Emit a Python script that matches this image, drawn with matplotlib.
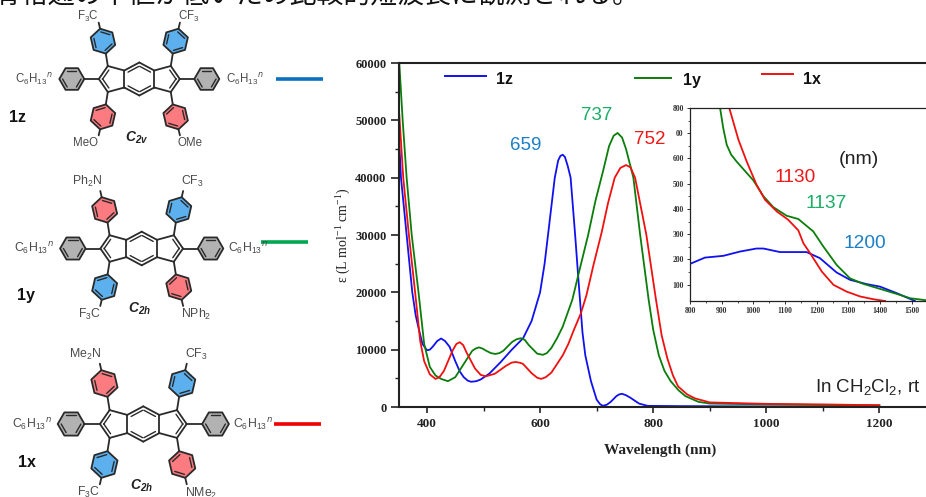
#!/usr/bin/env python3
import numpy as np
import matplotlib
matplotlib.use('Agg')
import matplotlib.pyplot as plt
from matplotlib.patches import Polygon

plt.rcParams['font.family'] = ['Liberation Sans', 'Noto Sans CJK JP', 'DejaVu Sans']
plt.rcParams['mathtext.default'] = 'regular'

W, H = 926, 497

# main spectra
wl_z = [351, 354, 364, 374, 380, 385, 392, 400, 405, 410, 418, 425, 432, 440, 450, 458, 465, 472, 478, 487, 495, 510, 530, 550, 570, 585, 600,
        608, 614, 620, 626, 632, 636, 640, 644, 649, 654, 658, 662, 668, 675, 680, 690, 700, 706, 711, 718, 725, 735, 740, 745, 752, 760, 775, 790, 850, 1000, 1200]
eps_z = [46000, 40000, 30000, 20000, 16000, 13800, 11000, 9900, 10000, 10500, 11500, 11950, 11500, 10500, 8000, 6200, 5200, 4600, 4400, 4500, 4800, 5800, 7800, 10000, 12000, 15000, 20000,
         25000, 30000, 35000, 40000, 43000, 43800, 44000, 43600, 42000, 40000, 35000, 30000, 22000, 13000, 9000, 4500, 1300, 500, 200, 400, 900, 1900, 2200, 2300, 2050, 1600, 600, 200, 150, 100, 50]
wl_y = [351, 357, 364, 373, 385, 395, 405, 415, 425, 437, 450, 465, 480, 486, 492, 498, 505, 513, 521, 528, 535, 550, 558, 566, 573, 580, 595, 605, 612, 620,
        630, 640, 657, 670, 685, 698, 711, 722, 730, 737, 745, 752, 765, 777, 785, 792, 800, 810, 820, 831, 845, 857, 880, 900, 1000, 1100, 1200]
eps_y = [60000, 50000, 40000, 30000, 20000, 11000, 7000, 5500, 4900, 4500, 5200, 7500, 9800, 10200, 10400, 10200, 9800, 9400, 9250, 9400, 9800, 11300, 11800, 12000, 11700, 10800, 9300, 9100, 9400, 10300,
         12000, 14000, 18700, 24000, 30000, 36000, 41000, 45500, 47300, 47800, 47000, 45000, 40000, 30000, 24000, 18700, 13500, 9000, 6300, 4500, 2900, 1900, 900, 600, 450, 350, 300]
wl_x = [351, 358, 368, 379, 388, 395, 405, 415, 422, 430, 445, 452, 458, 464, 470, 485, 495, 504, 520, 540, 550, 557, 565, 570, 585, 595, 602, 610, 620,
        640, 650, 660, 672, 682, 695, 709, 720, 732, 742, 752, 760, 768, 778, 788, 797, 805, 815, 825, 835, 844, 860, 874, 900, 1000, 1100, 1200]
eps_x = [51000, 40000, 30000, 20000, 11500, 8000, 5700, 4900, 5200, 6300, 9800, 11000, 11300, 10800, 9500, 6700, 5600, 5350, 5800, 7200, 7750, 7850, 7700, 7500, 5900, 5100, 4900, 5200, 6000,
         9000, 11000, 13500, 16300, 19500, 25000, 30500, 35500, 40000, 41700, 42200, 41800, 40000, 35000, 30000, 24000, 18700, 12500, 8500, 5500, 3600, 2200, 1500, 800, 550, 450, 300]

# near-IR inset
in_wl_z = [800, 847, 905, 958, 1010, 1032, 1084, 1168, 1210, 1263, 1305, 1358, 1400, 1453, 1510]
in_eps_z = [182, 207, 214, 231, 243, 243, 229, 229, 205, 148, 119, 102, 92, 66, 35]
in_wl_y = [895, 905, 916, 930, 947, 1000, 1032, 1063, 1105, 1142, 1189, 1221, 1263, 1305, 1347, 1400, 1453, 1495, 1545]
in_eps_y = [800, 720, 654, 615, 588, 513, 450, 407, 373, 360, 311, 251, 178, 125, 103, 83, 63, 46, 38]
in_wl_x = [924, 953, 979, 1010, 1037, 1074, 1110, 1142, 1158, 1179, 1216, 1253, 1295, 1337, 1379, 1416]
in_eps_x = [800, 674, 588, 496, 436, 390, 357, 315, 264, 225, 152, 99, 72, 53, 42, 35]

main_xticks = [400, 600, 800, 1000, 1200]
main_yticks = [0, 10000, 20000, 30000, 40000, 50000, 60000]
in_xticks = [800, 900, 1000, 1100, 1200, 1300, 1400, 1500]
in_yticks = [100, 200, 300, 400, 500, 600, 700, 800]
in_ylabels = ['100', '200', '300', '400', '500', '600', '00', '800']

BLUE, GREEN, RED = '#1010f0', '#0b7d0b', '#f01010'
SERIF = 'Liberation Serif'

fig = plt.figure(figsize=(W / 100, H / 100), dpi=100)


def axes_px(x0, y0, x1, y1):
    return fig.add_axes([x0 / W, 1 - y1 / H, (x1 - x0) / W, (y1 - y0) / H])


# overlay in pixel coords for the structures and the free labels
ov = fig.add_axes([0, 0, 1, 1], zorder=5)
ov.set_xlim(0, W)
ov.set_ylim(H, 0)
ov.axis('off')
ov.patch.set_alpha(0)

# main axes
ax = axes_px(399, 63, 926, 407)
ax.plot(wl_z, eps_z, color=BLUE, lw=1.3)
ax.plot(wl_y, eps_y, color=GREEN, lw=1.3)
ax.plot(wl_x, eps_x, color=RED, lw=1.3)
ax.set_xlim(350.5, 1282.5)
ax.set_ylim(0, 60000)
ax.set_xticks(main_xticks)
ax.set_xticks([500, 700, 900, 1100], minor=True)
ax.set_yticks(main_yticks)
ax.set_yticks(np.arange(5000, 60000, 10000), minor=True)
for lab in ax.get_xticklabels() + ax.get_yticklabels():
    lab.set_family(SERIF)
    lab.set_weight('bold')
ax.tick_params(axis='x', which='major', length=4, width=1.2, labelsize=9.5, pad=4, color='#222222', labelcolor='#222222')
ax.tick_params(axis='y', which='major', length=6, width=1.2, labelsize=9, pad=3, color='#222222', labelcolor='#222222')
ax.tick_params(which='minor', length=3, width=1.0, color='#222222')
ax.spines['right'].set_visible(False)
for s in ['left', 'bottom', 'top']:
    ax.spines[s].set_linewidth(1.5)
    ax.spines[s].set_color('#222222')
ov.text(660, 450, 'Wavelength (nm)', family=SERIF, weight='bold', fontsize=11, ha='center', va='center', color='#222222')
ov.text(344, 235, 'ε (L mol$^{-1}$ cm$^{-1}$)', family=SERIF, fontsize=10, rotation=90, ha='center', va='center', color='#222222')

# inset
inset = axes_px(690, 108, 926, 301)
inset.plot(in_wl_z, in_eps_z, color=BLUE, lw=1.3)
inset.plot(in_wl_y, in_eps_y, color=GREEN, lw=1.3)
inset.plot(in_wl_x, in_eps_x, color=RED, lw=1.3)
inset.set_xlim(800, 800 + 236 / 0.3167)
inset.set_ylim(35, 800)
inset.set_xticks(in_xticks)
inset.set_xticks(np.arange(850, 1550, 100), minor=True)
inset.set_yticks(in_yticks)
inset.set_yticklabels(in_ylabels)
inset.set_yticks(np.arange(150, 800, 100), minor=True)
for lab in inset.get_xticklabels() + inset.get_yticklabels():
    lab.set_family(SERIF)
    lab.set_weight('bold')
inset.tick_params(which='major', length=2.5, width=0.7, labelsize=5.5, pad=2, color='#333333', labelcolor='#333333')
inset.tick_params(which='minor', length=1.5, width=0.6, color='#333333')
inset.spines['right'].set_visible(False)
for s in ['left', 'bottom', 'top']:
    inset.spines[s].set_linewidth(0.9)
    inset.spines[s].set_color('#222222')

# legend, drawn by hand like in the slide
for x0, x1, y, c, name, tx, ty in [(445, 486, 76, BLUE, '1z', 496, 80),
                                   (635, 671, 77.7, GREEN, '1y', 683, 80),
                                   (762, 793, 74, RED, '1x', 803, 79)]:
    ov.plot([x0, x1], [y, y], color=c, lw=1.4)
    ov.text(tx, ty, name, fontsize=11.5, weight='bold', ha='left', va='center', color='#111111')

LBL_BLUE, LBL_GREEN = '#1c7fc6', '#1aae66'
for x, y, s, c, fs in [(526, 146, '659', LBL_BLUE, 13.5), (597, 116, '737', LBL_GREEN, 13.5), (650, 140, '752', '#f01818', 13.5),
                       (795, 178, '1130', '#f01818', 13.8), (826, 203, '1137', LBL_GREEN, 13.8),
                       (865, 243, '1200', LBL_BLUE, 13.8), (859, 160, '(nm)', '#222222', 14)]:
    ov.text(x, y, s, color=c, fontsize=fs, ha='center', va='center')
ov.text(920, 387, 'In CH$_2$Cl$_2$, rt', fontsize=13.5, ha='right', va='center', color='#222222')

# line of slide text cut off by the top edge
ov.text(-5, 3, '骨格通の半値が低いため比較的短波長に観測される。', family=['Noto Sans CJK JP', 'DejaVu Sans'],
        fontsize=19.4, ha='left', va='baseline', color='#111111', clip_on=False)

RING_B, RING_R, RING_G = '#5cb0ee', '#fb7b80', '#b2b2b2'
INK = '#2a2a2a'
TXT = '#4a4a4a'


def ring(cx, cy, r, ang, fc):
    a = np.radians(ang + np.arange(6) * 60)
    px, py = cx + r * np.cos(a), cy + r * np.sin(a)
    ov.add_patch(Polygon(np.c_[px, py], closed=True, fc=fc, ec=INK, lw=1.3, joinstyle='round'))
    # inner double bonds
    for i in (0, 2, 4):
        j = (i + 1) % 6
        p = np.array([px[i], py[i]])
        q = np.array([px[j], py[j]])
        c = np.array([cx, cy])
        p2 = c + (p - c) * 0.74
        q2 = c + (q - c) * 0.74
        ov.plot([p2[0], q2[0]], [p2[1], q2[1]], color=INK, lw=1.0, solid_capstyle='round')


def bond(x0, y0, x1, y1, lw=1.3):
    ov.plot([x0, x1], [y0, y1], color=INK, lw=lw, solid_capstyle='round')


def inner(p, q, c, f=0.72):
    p, q, c = np.array(p), np.array(q), np.array(c)
    m = (p + q) / 2
    d = (c - m) / np.linalg.norm(c - m) * 3.2
    a = m + (p - m) * f + d
    b = m + (q - m) * f + d
    bond(a[0], a[1], b[0], b[1], 1.0)


def molecule(cx, cy, s, fills):
    # fills: top-left, top-right, bottom-left, bottom-right aryl colours
    for sx in (-1, 1):
        a = (cx + sx * 15 * s, cy - 8.5 * s)
        b = (cx + sx * 15 * s, cy + 8.5 * s)
        t = (cx + sx * 31.5 * s, cy - 13 * s)
        m = (cx + sx * 40.5 * s, cy)
        u = (cx + sx * 31.5 * s, cy + 13 * s)
        pts = [a, t, m, u, b]
        for p, q in zip(pts, pts[1:] + pts[:1]):
            bond(p[0], p[1], q[0], q[1])
        pc = (cx + sx * 29 * s, cy)
        inner(t, m, pc)
        inner(m, u, pc)
        # grey aryl on the ring ends
        gx = cx + sx * 67.5 * s
        bond(m[0], m[1], gx - sx * 12.5 * s, cy)
        ring(gx, cy, 12.5 * s, 0, RING_G)
        # top and bottom aryls, tilted outward
        for sy, fc, vert in ((-1, fills[0 if sx < 0 else 1], t), (1, fills[2 if sx < 0 else 3], u)):
            dx, dy = sx * np.sin(np.radians(13)), sy * np.cos(np.radians(13))
            rx, ry = vert[0] - dx * 4 * s + dx * 25.5 * s, vert[1] + dy * 25.5 * s
            ex, ey = rx - dx * 12.8 * s, ry - dy * 12.8 * s
            bond(vert[0], vert[1], ex, ey)
            ring(rx, ry, 12.8 * s, np.degrees(np.arctan2(dy, dx)), fc)
            bond(rx + dx * 12.8 * s, ry + dy * 12.8 * s, rx + dx * 19 * s, ry + dy * 19 * s)
    top = (cx, cy - 16.5 * s)
    bot = (cx, cy + 16.5 * s)
    for sx in (-1, 1):
        a = (cx + sx * 15 * s, cy - 8.5 * s)
        b = (cx + sx * 15 * s, cy + 8.5 * s)
        bond(top[0], top[1], a[0], a[1])
        bond(bot[0], bot[1], b[0], b[1])
        inner(top, a, (cx, cy))
        inner(bot, b, (cx, cy))


def grp(x, y, s, fs=8.3):
    ov.text(x, y, s, fontsize=fs, ha='center', va='center', color=TXT)


def symm(x, y, s):
    ov.text(x, y, s, fontsize=10, weight='bold', style='italic', ha='center', va='center', color='#222222')


HEX = r'C$_6$H$_{13}$$^{\mathit{n}}$'
F3C = 'F$_3$C'
CF3 = 'CF$_3$'

molecule(139.3, 79, 1.0, [RING_B, RING_B, RING_R, RING_R])
for x, y, s in [(88, 16, F3C), (188.3, 16, CF3), (86, 143.5, 'MeO'), (190, 143.5, 'OMe'), (34, 79.5, HEX), (245, 79.5, HEX)]:
    grp(x, y, s)
symm(136.7, 138, 'C$_{2v}$')
ov.text(17.7, 117.5, '1z', fontsize=11.5, weight='bold', ha='center', va='center', color='#111111')
ov.plot([276, 323], [79, 79], color='#0a70c0', lw=2.6, solid_capstyle='butt')

molecule(141.7, 248.5, 1.02, [RING_R, RING_B, RING_B, RING_R])
for x, y, s in [(87, 181, 'Ph$_2$N'), (192.7, 181.5, CF3), (90, 314, F3C), (196, 314.5, 'NPh$_2$'), (34, 248.5, HEX), (248, 248.5, HEX)]:
    grp(x, y, s, 8.8)
symm(140, 309, 'C$_{2h}$')
ov.text(26, 295.5, '1y', fontsize=11.5, weight='bold', ha='center', va='center', color='#111111')
ov.plot([261, 308], [242.3, 242.3], color='#00a850', lw=2.6, solid_capstyle='butt')

molecule(143.3, 424, 1.07, [RING_R, RING_B, RING_B, RING_R])
for x, y, s in [(85, 354.5, 'Me$_2$N'), (196, 354.5, CF3), (89, 492, F3C), (200.7, 493, 'NMe$_2$'), (32, 424.5, HEX), (253, 424.5, HEX)]:
    grp(x, y, s, 8.8)
symm(141.7, 486, 'C$_{2h}$')
ov.text(26.7, 462.5, '1x', fontsize=11.5, weight='bold', ha='center', va='center', color='#111111')
ov.plot([274, 321], [424.3, 424.3], color='#f00000', lw=2.6, solid_capstyle='butt')

fig.savefig('out.png', dpi=100)
